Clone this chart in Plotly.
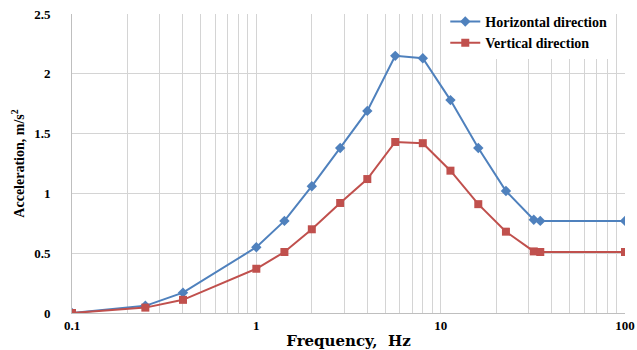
import plotly.graph_objects as go

freq = [0.1, 0.25, 0.4, 1.0, 1.42, 2.0, 2.85, 4.0, 5.67, 8.0, 11.3, 16.0, 22.6, 32.0, 34.7, 100.0]
horizontal = [0.0, 0.06, 0.17, 0.55, 0.77, 1.06, 1.38, 1.69, 2.15, 2.13, 1.78, 1.38, 1.02, 0.78, 0.77, 0.77]
vertical = [0.0, 0.045, 0.11, 0.37, 0.51, 0.70, 0.92, 1.12, 1.43, 1.42, 1.19, 0.91, 0.68, 0.515, 0.51, 0.51]

x_ticks = [0.1, 1, 10, 100]
x_ticktext = ["0.1", "1", "10", "100"]
x_minor = [m * d for d in (0.1, 1, 10) for m in range(2, 10)]
y_ticks = [0, 0.5, 1, 1.5, 2, 2.5]
y_ticktext = ["0", "0.5", "1", "1.5", "2", "2.5"]

serif = "Liberation Serif, Times New Roman, serif"
wide_serif = "DejaVu Serif, serif"

fig = go.Figure()
fig.add_trace(go.Scatter(
    x=freq, y=horizontal, mode="lines+markers", name="Horizontal direction",
    line=dict(color="#4F81BD", width=2),
    marker=dict(symbol="diamond", size=8, color="#4F81BD"),
))
fig.add_trace(go.Scatter(
    x=freq, y=vertical, mode="lines+markers", name="Vertical direction",
    line=dict(color="#C0504D", width=2),
    marker=dict(symbol="square", size=8, color="#C0504D"),
))

fig.update_layout(
    width=637, height=350,
    margin=dict(l=72, r=12, t=14, b=37, autoexpand=False),
    paper_bgcolor="white", plot_bgcolor="white",
    font=dict(family=serif, size=13, color="black"),
    legend=dict(
        x=0.675, y=1.027, xanchor="left", yanchor="top",
        bgcolor="white", borderwidth=0,
        font=dict(family=serif, size=14, color="black", weight="bold"),
        tracegroupgap=0, itemwidth=30,
    ),
    showlegend=True,
)
fig.update_xaxes(
    type="log", range=[-1, 2],
    tickvals=x_ticks, ticktext=x_ticktext,
    minor=dict(tickvals=x_minor, showgrid=True, gridcolor="#d4d4d4", gridwidth=1, ticks=""),
    showgrid=True, gridcolor="#d4d4d4", gridwidth=1,
    showline=True, linecolor="#bfbfbf", zeroline=False,
    ticks="", tickfont=dict(family=serif, size=13, color="black", weight="bold"),
    title=dict(text="Frequency,  Hz", font=dict(family=wide_serif, size=15, color="black", weight="bold"), standoff=4),
)
fig.update_yaxes(
    range=[0, 2.5], tickvals=y_ticks, ticktext=y_ticktext,
    showgrid=True, gridcolor="#d4d4d4", gridwidth=1,
    showline=True, linecolor="#bfbfbf", zeroline=False,
    ticks="", ticklabelstandoff=18,
    tickfont=dict(family=serif, size=13, color="black", weight="bold"),
    title=dict(text="Acceleration, m/s<sup>2</sup>", font=dict(family=serif, size=14, color="black", weight="bold"), standoff=6),
)

fig.write_html(
    "out.html",
    config={"displayModeBar": False},
    post_script="document.body.style.margin='0';document.body.style.overflow='hidden';",
)
